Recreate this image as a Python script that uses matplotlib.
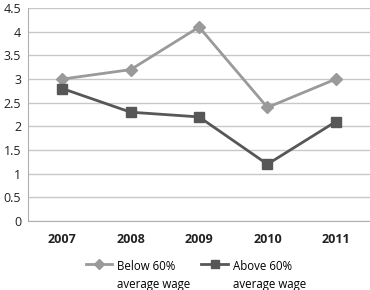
import matplotlib
matplotlib.use("Agg")
import matplotlib.pyplot as plt

years = ["2007", "2008", "2009", "2010", "2011"]
below_60 = [3.0, 3.2, 4.1, 2.4, 3.0]
above_60 = [2.8, 2.3, 2.2, 1.2, 2.1]

plt.rcParams["font.family"] = ["Open Sans", "DejaVu Sans"]

fig = plt.figure(figsize=(3.7, 2.9), dpi=100)
ax = fig.add_axes([0.076, 0.238, 0.924, 0.734])

x = range(len(years))
ax.plot(x, below_60, color="#9a9a9a", lw=2, marker="D", ms=6,
        label="Below 60%\naverage wage")
ax.plot(x, above_60, color="#575757", lw=2, marker="s", ms=7.5,
        label="Above 60%\naverage wage")

ax.set_xlim(-0.5, 4.5)
ax.set_ylim(0, 4.5)
ax.set_yticks([0, 0.5, 1, 1.5, 2, 2.5, 3, 3.5, 4, 4.5])
ax.set_yticklabels(["0", "0.5", "1", "1.5", "2", "2.5", "3", "3.5", "4", "4.5"])
ax.set_xticks(list(x))
ax.set_xticklabels(years, fontweight="bold")
ax.tick_params(axis="both", length=0, labelsize=9, colors="#222222")
ax.tick_params(axis="x", pad=9)
ax.tick_params(axis="y", pad=5)
ax.grid(axis="y", color="#c8c8c8", lw=1)
ax.set_axisbelow(True)
for s in ["top", "right"]:
    ax.spines[s].set_visible(False)
ax.spines["left"].set_color("#b0b0b0")
ax.spines["bottom"].set_color("#b0b0b0")

leg = ax.legend(loc="upper center", bbox_to_anchor=(0.49, -0.135), ncol=2,
                frameon=False, fontsize=8.3, handlelength=2.3, columnspacing=1.0,
                handletextpad=0.4, markerscale=0.8)
for t in leg.get_texts():
    t.set_linespacing(1.45)
# put the handle next to the first text line, like the original
for col in leg._legend_handle_box.get_children():
    for item in col.get_children():
        item.align = "top"

fig.savefig("out.png", dpi=100)
